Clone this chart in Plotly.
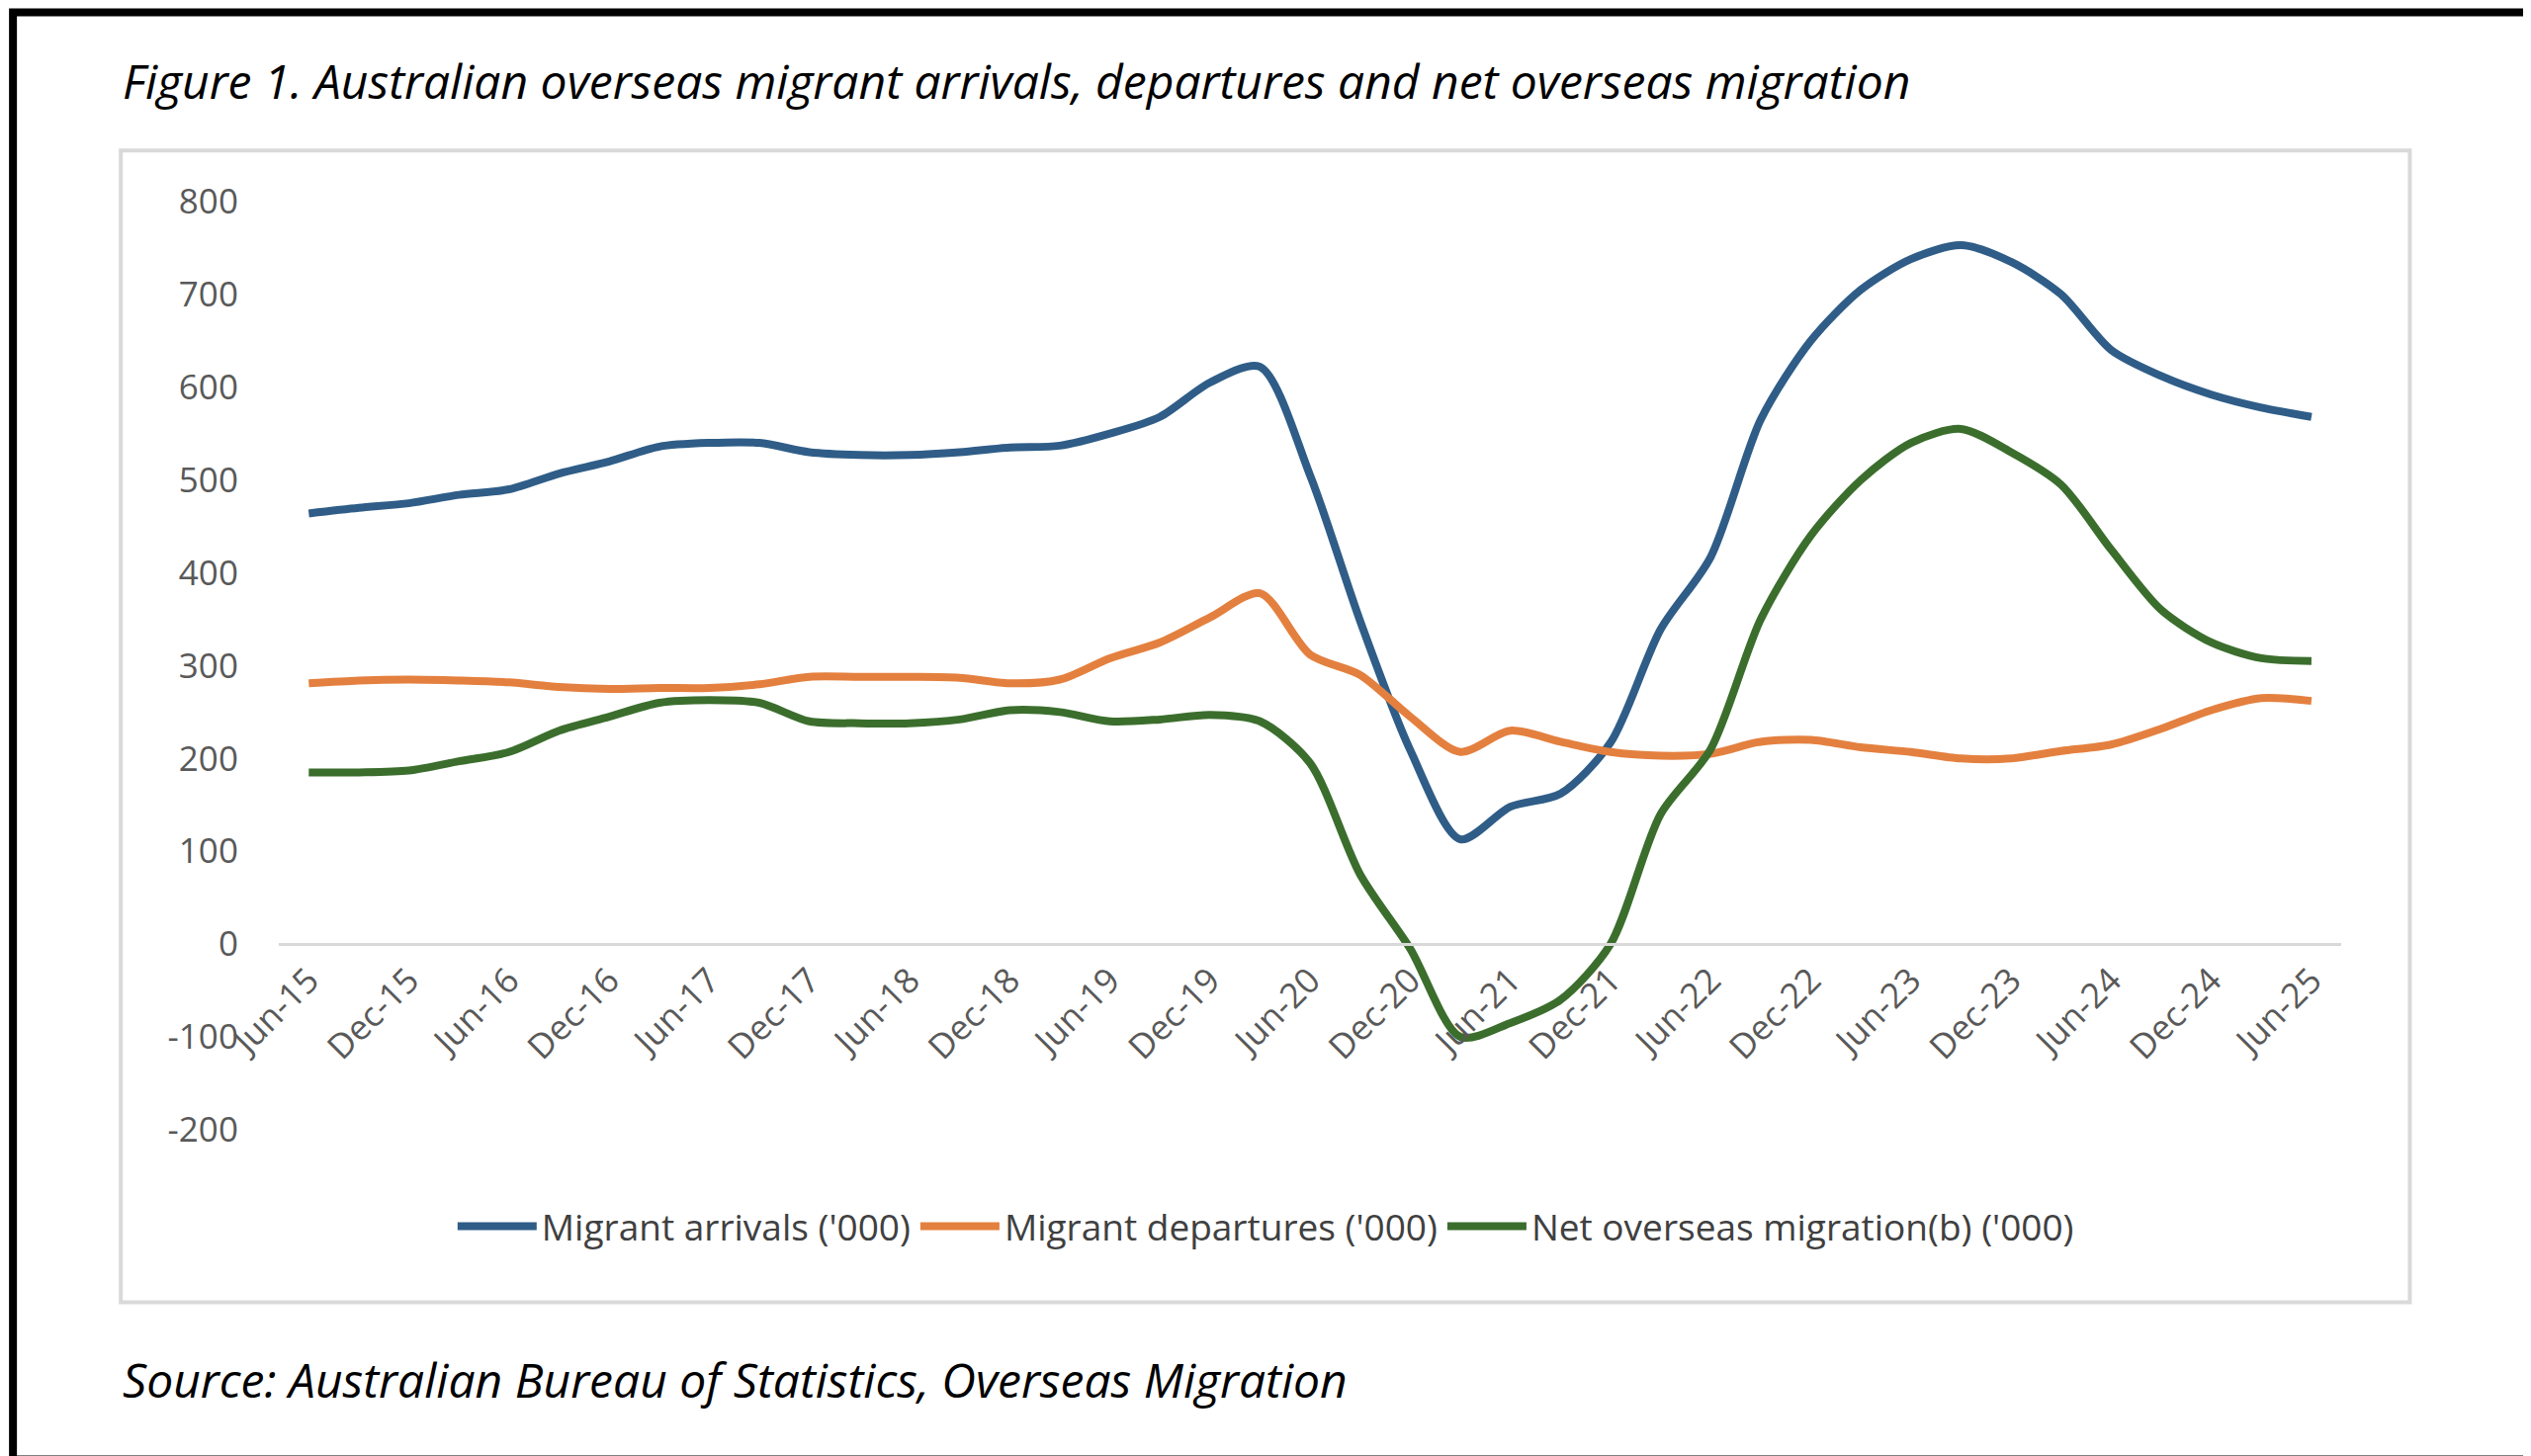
import plotly.graph_objects as go

# quarterly, Jun-15 .. Jun-25
tick_labels = ["Jun-15", "Dec-15", "Jun-16", "Dec-16", "Jun-17", "Dec-17", "Jun-18",
               "Dec-18", "Jun-19", "Dec-19", "Jun-20", "Dec-20", "Jun-21", "Dec-21",
               "Jun-22", "Dec-22", "Jun-23", "Dec-23", "Jun-24", "Dec-24", "Jun-25"]
y_ticks = [-200, -100, 0, 100, 200, 300, 400, 500, 600, 700, 800]

arrivals = [464, 470, 475, 484, 490, 507, 520, 536, 540, 540, 530, 527, 527, 530, 535,
            537, 550, 568, 605, 622, 505, 348, 209, 113, 148, 162, 217, 339, 417, 565,
            650, 705, 738, 753, 735, 700, 640, 612, 592, 578, 568]
departures = [281, 284, 285, 284, 282, 277, 275, 276, 276, 280, 288, 288, 288, 287, 281,
              285, 308, 325, 352, 378, 312, 290, 245, 207, 230, 218, 207, 203, 205, 218,
              220, 212, 207, 200, 200, 208, 215, 232, 252, 265, 262]
net_migration = [185, 185, 187, 197, 207, 230, 245, 260, 263, 260, 240, 238, 238, 242, 252,
                 250, 240, 242, 247, 240, 195, 75, -5, -100, -85, -60, 0, 140, 210, 350,
                 440, 500, 540, 555, 530, 495, 425, 360, 325, 308, 305]

x = list(range(len(arrivals)))
font = "'Open Sans', sans-serif"

fig = go.Figure()
series = [
    ("Migrant arrivals ('000)", arrivals, "#2f5d87"),
    ("Migrant departures ('000)", departures, "#e4803f"),
    ("Net overseas migration(b) ('000)", net_migration, "#3b6e2d"),
]
for name, vals, col in series:
    fig.add_trace(go.Scatter(x=x, y=vals, name=name, mode="lines",
                             line=dict(color=col, width=8, shape="spline", smoothing=0.8)))

fig.update_layout(
    width=2560, height=1473,
    margin=dict(l=0, r=0, t=0, b=0, autoexpand=False),
    paper_bgcolor="white", plot_bgcolor="white",
    font=dict(family=font, size=35, color="#595959"),
    showlegend=True,
    legend=dict(orientation="h", x=0.497, xanchor="center", y=0.163, yanchor="middle",
                font=dict(size=37, color="#404040"), itemwidth=80),
    xaxis=dict(domain=[0.107, 0.922], range=[-0.6, 40.6], tickvals=list(range(0, 41, 2)),
               ticktext=tick_labels, tickangle=-45, showgrid=False, zeroline=False,
               showline=True, linecolor="#d9d9d9", linewidth=3, anchor="free",
               position=0.357, ticks="", automargin=False,
               tickfont=dict(size=35, color="#595959")),
    yaxis=dict(domain=[0.2295, 0.867], range=[-200, 800], tickvals=y_ticks,
               ticktext=[str(v) for v in y_ticks], showgrid=False, automargin=False,
               zeroline=False, showline=False, tickfont=dict(size=35, color="#595959"),
               ticklabelstandoff=40),
    shapes=[
        dict(type="rect", xref="paper", yref="paper", x0=0.0446, x1=0.949, y0=0.111, y1=0.902,
             line=dict(color="#d9d9d9", width=4), layer="below"),
        dict(type="rect", xref="paper", yref="paper", x0=0.002, x1=0.998, y0=0.003, y1=0.997,
             line=dict(color="black", width=8)),
    ],
    annotations=[
        dict(text="<i>Figure 1. Australian overseas migrant arrivals, departures and net overseas migration</i>",
             xref="paper", yref="paper", x=0.0446, y=0.95, xanchor="left", yanchor="middle",
             showarrow=False, font=dict(size=48, color="black", family=font)),
        dict(text="<i>Source: Australian Bureau of Statistics, Overseas Migration</i>",
             xref="paper", yref="paper", x=0.0446, y=0.058, xanchor="left", yanchor="middle",
             showarrow=False, font=dict(size=48, color="black", family=font)),
    ],
)

fig.write_html("out.html")
